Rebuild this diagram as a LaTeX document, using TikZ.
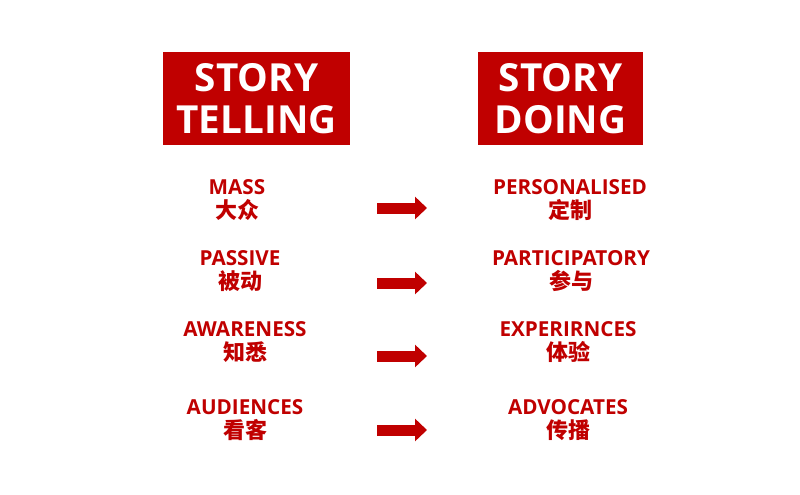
\documentclass[tikz,border=0pt]{standalone}
\usepackage{fontspec}
\setmainfont{Open Sans}
\newfontfamily\cjk{Noto Sans CJK SC}
\usepackage{tikz}
\usetikzlibrary{arrows.meta,positioning}
\definecolor{storyred}{HTML}{C00000}

\begin{document}
\begin{tikzpicture}[
x=0.75pt,
y=-0.75pt,
header/.style={
fill=storyred,
text=white,
align=center,
inner sep=0pt,
font=\fontsize{29}{31}\selectfont\bfseries
},
item/.style={
text=storyred,
align=center,
inner sep=0pt,
font=\fontsize{15.5}{18.5}\selectfont\bfseries
},
shiftarrow/.style={
draw=storyred,
line width=8.25pt,
-{Triangle[length=9pt,width=16.5pt]}
}
]

\useasboundingbox[fill=white] (0,0) rectangle (800,494);

% headers
\node[header, minimum width=140.25pt, minimum height=69.75pt] (telling) at (256.5,98.5) {STORY\\TELLING};
\node[header, minimum width=123.75pt, minimum height=69.75pt] (doing) at (560.5,98.5) {STORY\\DOING};

% left column
\node[item] (mass) at (237,200) {MASS\\{\cjk\fontsize{16.5}{18.5}\selectfont 大众}};
\node[item] (passive) at (240,271) {PASSIVE\\{\cjk\fontsize{16.5}{18.5}\selectfont 被动}};
\node[item] (awareness) at (245,342) {AWARENESS\\{\cjk\fontsize{16.5}{18.5}\selectfont 知悉}};
\node[item] (audiences) at (245,420) {AUDIENCES\\{\cjk\fontsize{16.5}{18.5}\selectfont 看客}};

% right column
\node[item] (personal) at (570,200) {PERSONALISED\\{\cjk\fontsize{16.5}{18.5}\selectfont 定制}};
\node[item] (particip) at (571,271) {PARTICIPATORY\\{\cjk\fontsize{16.5}{18.5}\selectfont 参与}};
\node[item] (experience) at (568,342) {EXPERIRNCES\\{\cjk\fontsize{16.5}{18.5}\selectfont 体验}};
\node[item] (advocates) at (568,420) {ADVOCATES\\{\cjk\fontsize{16.5}{18.5}\selectfont 传播}};

% arrows
\foreach \name/\y in {a/208, b/283, c/356, d/430} {
  \coordinate (\name from) at (377,\y);
  \coordinate (\name to) at (427,\y);
  \draw[shiftarrow] (\name from) -- (\name to);
}

\end{tikzpicture}
\end{document}
